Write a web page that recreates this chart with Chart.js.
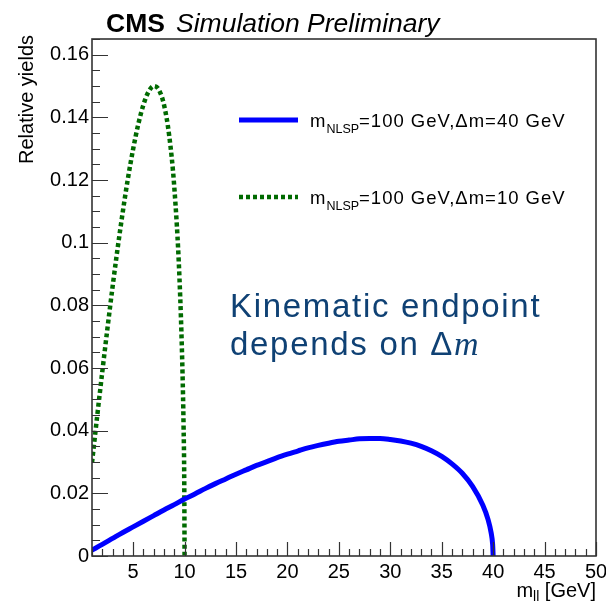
<!DOCTYPE html>
<html><head><meta charset="utf-8">
<script src="https://cdn.jsdelivr.net/npm/chart.js@4/dist/chart.umd.min.js"></script>
<style>html,body{margin:0;padding:0;background:#fff;overflow:hidden}</style>
</head><body>
<canvas id="c" width="606" height="603" style="display:block;width:606px;height:603px"></canvas>
<script>
// ---- data ----
const blueX = [1,2,3,4,5,6,7,8,9,10,11,12,13,14,15,16,17,18,19,20,21,22,23,24,25,26,27,28,29,30,31,32,33,34,35,36,37,38,39,39.5,39.8,39.95,40];
const blueY = [0.0019,0.0037,0.0056,0.0075,0.0093,0.0111,0.0129,0.0147,0.0164,0.0182,0.0198,0.0215,0.0231,0.0246,0.0261,0.0275,0.0289,0.0301,0.0314,0.0325,0.0335,0.0345,0.0353,0.0360,0.0366,0.0370,0.0374,0.0375,0.0375,0.0372,0.0367,0.0360,0.0350,0.0336,0.0318,0.0294,0.0264,0.0222,0.0162,0.0117,0.0075,0.0037,0];
const greenX = [1,1.5,2,2.5,3,3.5,4,4.5,5,5.5,6,6.5,7,7.5,8,8.5,9,9.5,9.8,9.9,9.97,10];
const greenY = [0.0298,0.0445,0.0588,0.0726,0.0859,0.0984,0.1100,0.1206,0.1299,0.1378,0.1440,0.1482,0.1500,0.1488,0.1440,0.1343,0.1177,0.0890,0.0585,0.0419,0.0232,0];
const xTickValues = [5,10,15,20,25,30,35,40,45,50];
const xTickLabels = ['5','10','15','20','25','30','35','40','45','50'];
const yTickValues = [0,0.02,0.04,0.06,0.08,0.1,0.12,0.14,0.16];
const yTickLabels = ['0','0.02','0.04','0.06','0.08','0.1','0.12','0.14','0.16'];
const legendMain = ['m','m'];
const legendSub = ['NLSP','NLSP'];
const legendRest = ['=100 GeV,\u0394m=40 GeV','=100 GeV,\u0394m=10 GeV'];
const annotationLines = ['Kinematic endpoint','depends on '];
const titleBold = 'CMS';
const titleItalic = 'Simulation Preliminary';
const yTitle = 'Relative yields';

const FONT = '"Liberation Sans", Arial, Helvetica, sans-serif';
const BLUE = '#0000ff', GREEN = '#006a00';

const toPts = (xs, ys) => xs.map((v, i) => ({x: v, y: ys[i]}));

function setSpacing(ctx, s) { if ('letterSpacing' in ctx) ctx.letterSpacing = s; }

const decor = {
  id: 'decor',
  afterDatasetsDraw(chart) {
    const {ctx, chartArea: a, scales: {x, y}} = chart;
    ctx.save();
    ctx.strokeStyle = '#333';
    ctx.lineWidth = 1.2;
    ctx.beginPath();
    for (let v = Math.ceil(x.min); v <= x.max; v++) {
      const px = Math.round(x.getPixelForValue(v)) + 0.5;
      const len = v % 5 === 0 ? 14 : 7;
      ctx.moveTo(px, a.bottom); ctx.lineTo(px, a.bottom - len);
    }
    const n = Math.floor(y.max / 0.005 + 1e-6);
    for (let i = 0; i <= n; i++) {
      const py = Math.round(y.getPixelForValue(i * 0.005)) + 0.5;
      const len = i % 4 === 0 ? 16 : 8;
      ctx.moveTo(a.left, py); ctx.lineTo(a.left + len, py);
    }
    ctx.stroke();
    ctx.lineWidth = 1.6;
    ctx.strokeStyle = '#333';
    ctx.strokeRect(a.left, a.top, a.right - a.left, a.bottom - a.top);
    ctx.restore();
  },
  afterDraw(chart) {
    const {ctx, chartArea: a} = chart;
    ctx.save();
    ctx.fillStyle = '#000';
    ctx.textBaseline = 'alphabetic';
    // title
    ctx.font = 'bold 26.5px ' + FONT;
    ctx.fillText(titleBold, 106, 32);
    ctx.font = 'italic 26.5px ' + FONT;
    ctx.fillText(titleItalic, 176, 32);
    // y title
    ctx.save();
    ctx.translate(33, 35);
    ctx.rotate(-Math.PI / 2);
    ctx.textAlign = 'right';
    ctx.font = '20px ' + FONT;
    ctx.fillText(yTitle, 0, 0);
    ctx.restore();
    // x title: m_ll [GeV]
    ctx.font = '20px ' + FONT;
    const wm = ctx.measureText('m').width;
    const wr = ctx.measureText(' [GeV]').width;
    ctx.font = '14px ' + FONT;
    const ws = ctx.measureText('ll').width;
    let xs = a.right - (wm + ws + wr);
    ctx.font = '20px ' + FONT;
    ctx.fillText('m', xs, 597);
    ctx.font = '14px ' + FONT;
    ctx.fillText('ll', xs + wm, 601);
    ctx.font = '20px ' + FONT;
    ctx.fillText(' [GeV]', xs + wm + ws, 597);
    // legend
    const ds = chart.data.datasets;
    const rows = [120, 197];
    ds.forEach((d, i) => {
      const yy = rows[i];
      ctx.save();
      ctx.strokeStyle = d.borderColor;
      ctx.lineWidth = d.borderWidth;
      ctx.setLineDash(d.borderDash || []);
      ctx.beginPath(); ctx.moveTo(239, yy); ctx.lineTo(298, yy); ctx.stroke();
      ctx.restore();
      let tx = 310;
      setSpacing(ctx, '1px');
      ctx.font = '18.5px ' + FONT;
      ctx.fillText(legendMain[i], tx, yy + 7);
      tx += ctx.measureText(legendMain[i]).width;
      setSpacing(ctx, '0px');
      ctx.font = '12.5px ' + FONT;
      ctx.fillText(legendSub[i], tx, yy + 13);
      tx += ctx.measureText(legendSub[i]).width;
      setSpacing(ctx, '1px');
      ctx.font = '18.5px ' + FONT;
      ctx.fillText(legendRest[i], tx, yy + 7);
      setSpacing(ctx, '0px');
    });
    // annotation
    ctx.fillStyle = '#0f4174';
    setSpacing(ctx, '1.7px');
    ctx.font = '33px ' + FONT;
    ctx.fillText(annotationLines[0], 230, 317);
    ctx.fillText(annotationLines[1], 230, 355);
    let ax = 230 + ctx.measureText(annotationLines[1]).width;
    ctx.fillText('\u0394', ax, 355);
    ax += ctx.measureText('\u0394').width;
    ctx.font = 'italic 34px "Liberation Serif", "DejaVu Serif", serif';
    ctx.fillText('m', ax, 355);
    setSpacing(ctx, '0px');
    ctx.restore();
  }
};

new Chart(document.getElementById('c'), {
  type: 'line',
  data: {
    datasets: [
      {label: 'm_NLSP=100 GeV, Δm=40 GeV', data: toPts(blueX, blueY), borderColor: BLUE, borderWidth: 5,
       pointRadius: 0, cubicInterpolationMode: 'monotone', fill: false},
      {label: 'm_NLSP=100 GeV, Δm=10 GeV', data: toPts(greenX, greenY), borderColor: GREEN, borderWidth: 4.5,
       borderDash: [4, 3], pointRadius: 0, cubicInterpolationMode: 'monotone', fill: false}
    ]
  },
  options: {
    responsive: false,
    animation: false,
    devicePixelRatio: 1,
    layout: {padding: {top: 39, right: 10, left: 0, bottom: 0}},
    plugins: {legend: {display: false}, tooltip: {enabled: false}},
    scales: {
      x: {
        type: 'linear', min: 1, max: 50,
        grid: {display: false, drawTicks: false}, border: {display: false},
        afterBuildTicks: s => { s.ticks = xTickValues.map(v => ({value: v})); },
        afterFit: s => { s.height = 47; s.paddingRight = 0; s.paddingLeft = 0; },
        ticks: {color: '#000', font: {family: FONT, size: 20}, padding: 4, maxRotation: 0,
                callback: (v) => xTickLabels[xTickValues.indexOf(v)]}
      },
      y: {
        type: 'linear', min: 0, max: 0.165,
        grid: {display: false, drawTicks: false}, border: {display: false},
        afterBuildTicks: s => { s.ticks = yTickValues.map(v => ({value: v})); },
        afterFit: s => { s.width = 92; s.paddingTop = 0; s.paddingBottom = 0; },
        ticks: {color: '#000', font: {family: FONT, size: 20}, padding: 3,
                callback: (v) => yTickLabels[yTickValues.indexOf(v)]}
      }
    }
  },
  plugins: [decor]
});
</script>
</body></html>
